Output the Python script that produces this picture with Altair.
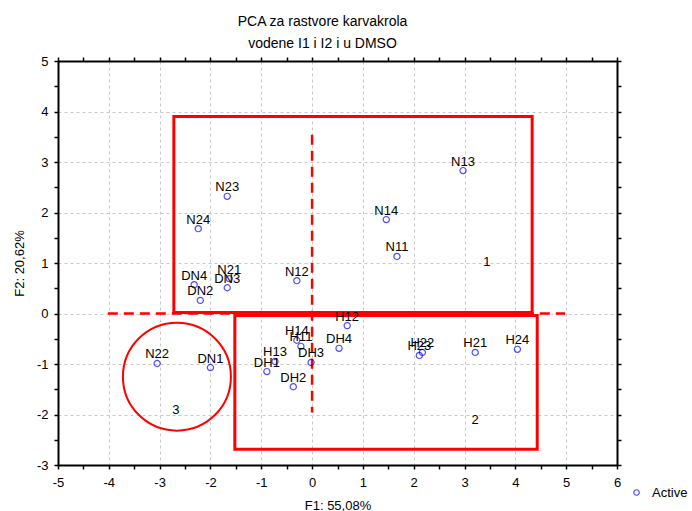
import altair as alt
import pandas as pd

# PCA scores of the samples (F1, F2)
labels = ["N11", "N12", "N13", "N14", "N21", "N22", "N23", "N24",
          "H11", "H12", "H13", "H14", "H21", "H22", "H23", "H24",
          "DN1", "DN2", "DN3", "DN4", "DH1", "DH2", "DH3", "DH4"]
f1 = [1.67, -0.30, 2.97, 1.46, -1.63, -3.05, -1.67, -2.24,
      -0.22, 0.69, -0.73, -0.30, 3.21, 2.17, 2.11, 4.04,
      -2.00, -2.20, -1.67, -2.32, -0.89, -0.37, -0.02, 0.53]
f2 = [1.13, 0.65, 2.83, 1.86, 0.69, -0.99, 2.32, 1.68,
      -0.65, -0.24, -0.95, -0.53, -0.77, -0.77, -0.83, -0.71,
      -1.07, 0.26, 0.51, 0.57, -1.15, -1.45, -0.97, -0.69]

# group outlines: rectangles 1 and 2, circle 3
box_x1 = [-2.72, -1.52]
box_x2 = [4.33, 4.43]
box_y1 = [3.90, -0.04]
box_y2 = [0.02, -2.69]
circle_x = [-2.66]
circle_y = [-1.25]

# dashed reference lines
dash_x1 = [-4.02, 0.0]
dash_x2 = [4.98, 0.0]
dash_y1 = [0.0, 3.54]
dash_y2 = [0.0, -1.96]

# group numbers
grp_text = ["1", "2", "3"]
grp_x = [3.44, 3.21, -2.68]
grp_y = [1.01, -2.10, -1.92]

x_ticks = [v / 2 for v in range(-10, 13)]
y_ticks = [v / 2 for v in range(-6, 11)]

FONT = "Liberation Sans"
RED = "#ff0000"

pts = pd.DataFrame({"F1": f1, "F2": f2, "label": labels, "kind": ["Active"] * len(f1)})
boxes = pd.DataFrame({"x": box_x1, "x2": box_x2, "y": box_y1, "y2": box_y2})
circ = pd.DataFrame({"x": circle_x, "y": circle_y})
dashes = pd.DataFrame({"x": dash_x1, "x2": dash_x2, "y": dash_y1, "y2": dash_y2})
groups = pd.DataFrame({"x": grp_x, "y": grp_y, "t": grp_text})

xs = alt.Scale(domain=[-5, 6], nice=False, zero=False)
ys = alt.Scale(domain=[-3, 5], nice=False, zero=False)

grid_op = {"condition": {"test": "datum.value % 1 !== 0", "value": 0}, "value": 1}
int_only = "datum.value % 1 === 0 ? '' + datum.value : ''"

x_axis = alt.Axis(values=x_ticks, labelExpr=int_only, title="F1: 55,08%",
                  grid=True, gridOpacity=grid_op, gridDash=[3, 3], gridColor="#c8c8c8",
                  domainColor="black", domainWidth=2, tickColor="black", tickSize=4,
                  tickWidth=1.5, labelPadding=7, titlePadding=10, labelFlush=False)
y_axis = alt.Axis(values=y_ticks, labelExpr=int_only, title="F2: 20,62%",
                  grid=True, gridOpacity=grid_op, gridDash=[3, 3], gridColor="#c8c8c8",
                  domainColor="black", domainWidth=2, tickColor="black", tickSize=4,
                  tickWidth=1.5, labelPadding=6, titlePadding=10, labelFlush=False)
x_top = alt.Axis(values=x_ticks, orient="top", labels=False, title=None, grid=False,
                 domainColor="black", domainWidth=2, tickColor="black", tickSize=4, tickWidth=1.5)
y_right = alt.Axis(values=y_ticks, orient="right", labels=False, title=None, grid=False,
                   domainColor="black", domainWidth=2, tickColor="black", tickSize=4, tickWidth=1.5)

points = alt.Chart(pts).mark_point(shape="circle", filled=False, size=38, strokeWidth=1.2).encode(
    x=alt.X("F1:Q", scale=xs, axis=x_axis),
    y=alt.Y("F2:Q", scale=ys, axis=y_axis),
    color=alt.Color("kind:N", scale=alt.Scale(range=["#0000ff"]),
                    legend=alt.Legend(title=None, orient="none", legendX=572, legendY=425,
                                      labelFont=FONT, labelFontSize=13, labelColor="black",
                                      labelOffset=9, symbolSize=30, symbolStrokeWidth=1.2)),
)

point_labels = alt.Chart(pts).mark_text(font=FONT, fontSize=13, color="black", dy=-9).encode(
    x=alt.X("F1:Q", scale=xs, axis=x_top),
    y=alt.Y("F2:Q", scale=ys, axis=y_right),
    text="label:N",
)

rects = alt.Chart(boxes).mark_rect(fillOpacity=0, stroke=RED, strokeWidth=3).encode(
    x=alt.X("x:Q", scale=xs, axis=None), x2="x2:Q",
    y=alt.Y("y:Q", scale=ys, axis=None), y2="y2:Q",
)

circle = alt.Chart(circ).mark_point(shape="circle", filled=False, size=11664,
                                    stroke=RED, strokeWidth=2, opacity=1).encode(
    x=alt.X("x:Q", scale=xs, axis=None),
    y=alt.Y("y:Q", scale=ys, axis=None),
)

dash_lines = alt.Chart(dashes).mark_rule(color=RED, strokeWidth=2.5, strokeDash=[10, 6]).encode(
    x=alt.X("x:Q", scale=xs, axis=None), x2="x2:Q",
    y=alt.Y("y:Q", scale=ys, axis=None), y2="y2:Q",
)

group_text = alt.Chart(groups).mark_text(font=FONT, fontSize=13, color="black").encode(
    x=alt.X("x:Q", scale=xs, axis=None),
    y=alt.Y("y:Q", scale=ys, axis=None),
    text="t:N",
)

chart = alt.layer(rects, circle, dash_lines, group_text, points, point_labels).resolve_axis(
    x="independent", y="independent"
).properties(
    width=559,
    height=404,
    autosize=alt.AutoSizeParams(type="none"),
    padding={"left": 58, "top": 61, "right": 75, "bottom": 46},
    title=alt.TitleParams(
        text=["PCA za rastvore karvakrola", "vodene I1 i I2 i u DMSO"],
        font=FONT, fontSize=14, fontWeight="normal", color="black",
        anchor="middle", dx=-15, offset=4, lineHeight=22,
    ),
).configure_view(stroke=None).configure_axis(
    labelFont=FONT, labelFontSize=13, labelColor="black",
    titleFont=FONT, titleFontSize=13, titleFontWeight="normal", titleColor="black",
)

chart.save("out.html", embed_options={"renderer": "svg", "actions": False})
